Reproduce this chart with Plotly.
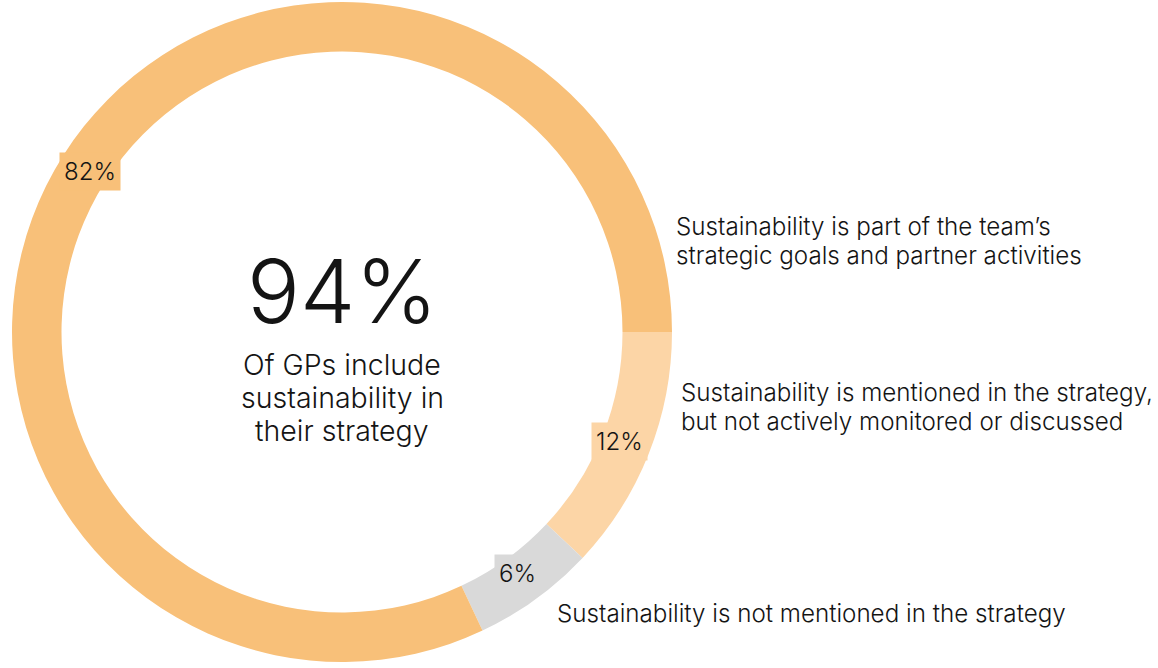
import math
import plotly.graph_objects as go

# ---- data ----
categories = [
    "Sustainability is mentioned in the strategy,<br>but not actively monitored or discussed",
    "Sustainability is not mentioned in the strategy",
    "Sustainability is part of the team’s<br>strategic goals and partner activities",
]
shares = [12, 6, 82]
share_labels = ["12%", "6%", "82%"]
slice_colors = ["#FCD5A6", "#D9D9D9", "#F8C079"]
headline_value = "94%"
headline_text = "Of GPs include<br>sustainability in<br>their strategy"

W, H = 1158, 668
FONT = "Inter"
TXT = "#141414"

# pie domain in pixels
x0, x1 = 12, 672
y_top, y_bot = 2, 662
cx, cy = (x0 + x1) / 2, (y_top + y_bot) / 2
r_out = (x1 - x0) / 2

fig = go.Figure(go.Pie(
    labels=[c.replace("<br>", " ") for c in categories],
    values=shares,
    sort=False,
    direction="clockwise",
    rotation=90,
    hole=0.85,
    textinfo="none",
    hoverinfo="label+percent",
    marker=dict(colors=slice_colors, line=dict(width=0)),
    domain=dict(x=[x0 / W, x1 / W], y=[1 - y_bot / H, 1 - y_top / H]),
    showlegend=False,
))

def px(x, y):
    return x / W, 1 - y / H

annotations = []
total = sum(shares)
ang = 0.0
r_lab = r_out * 0.905
for v, lab, col in zip(shares, share_labels, slice_colors):
    span = 360.0 * v / total
    mid = ang + span / 2  # clockwise from 3 o'clock
    theta = math.radians(-mid)
    lx = cx + r_lab * math.cos(theta)
    ly = cy - r_lab * math.sin(theta)
    ax_, ay_ = px(lx, ly)
    annotations.append(dict(
        x=ax_, y=ay_, xref="paper", yref="paper", text=lab, showarrow=False,
        font=dict(family=FONT, size=24, color=TXT, weight=300),
        bgcolor=col, borderpad=4, xanchor="center", yanchor="middle",
    ))
    ang += span

# category labels (one annotation per line for tight leading)
cat_pos = [(679, 392.7), (555, 613.3), (674, 226.7)]
LEAD = 28.5
for text, (lx, ly) in zip(categories, cat_pos):
    for i, line in enumerate(text.split("<br>")):
        ax_, ay_ = px(lx, ly + i * LEAD)
        annotations.append(dict(
            x=ax_, y=ay_, xref="paper", yref="paper", text=line, showarrow=False,
            font=dict(family=FONT, size=24.2, color=TXT, weight=300),
            xanchor="left", yanchor="middle", align="left",
        ))

hx, hy = px(cx, 290.5)
annotations.append(dict(
    x=hx, y=hy, xref="paper", yref="paper", text=headline_value, showarrow=False,
    font=dict(family=FONT, size=88, color=TXT, weight=300),
    xanchor="center", yanchor="middle",
))
for i, line in enumerate(headline_text.split("<br>")):
    sx, sy = px(cx, 364 + i * 33)
    annotations.append(dict(
        x=sx, y=sy, xref="paper", yref="paper", text=line, showarrow=False,
        font=dict(family=FONT, size=28.5, color=TXT, weight=300),
        xanchor="center", yanchor="middle", align="center",
    ))

fig.update_layout(
    width=W, height=H,
    margin=dict(l=0, r=0, t=0, b=0),
    paper_bgcolor="white", plot_bgcolor="white",
    annotations=annotations,
    font=dict(family=FONT, color=TXT),
)

fig.write_html("out.html", config={"displayModeBar": False},
               post_script="document.body.style.margin='0';")
